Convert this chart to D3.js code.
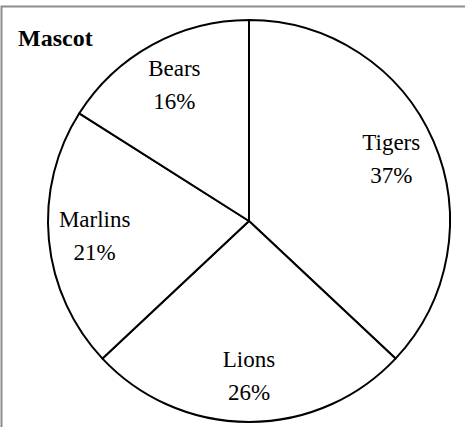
<!DOCTYPE html>
<html>
<head>
<meta charset="utf-8">
<script src="https://cdn.jsdelivr.net/npm/d3@7"></script>
<style>
  html, body { margin: 0; padding: 0; background: #fff; overflow: hidden; }
</style>
</head>
<body>
<div class="container"></div>
<script>
// chart data
const categories = ["Tigers", "Lions", "Marlins", "Bears"]
const values = [37, 26, 21, 16]
const title = "Mascot"

const w = 465
const h = 427
const cx = 249
const cy = 221
const radius = 201
const labelRadius = 155

const svg = d3.select(".container")
  .append("svg")
  .attr("width", w)
  .attr("height", h)

// chart frame (runs off the right and bottom edges)
svg.append("rect")
  .attr("x", 1.5)
  .attr("y", 6.5)
  .attr("width", w + 10)
  .attr("height", h + 10)
  .attr("fill", "#fff")
  .attr("stroke", "#8c8c8c")
  .attr("stroke-width", 2)

svg.append("text")
  .attr("x", 18)
  .attr("y", 46)
  .attr("font-family", "'Liberation Serif', 'Times New Roman', serif")
  .attr("font-weight", "bold")
  .attr("font-size", "24px")
  .text(title)

const data = categories.map((c, i) => ({ name: c, value: values[i] }))
const total = d3.sum(values)

const pie = d3.pie().sort(null).value(d => d.value)
const arc = d3.arc().innerRadius(0).outerRadius(radius)
const labelArc = d3.arc().innerRadius(labelRadius).outerRadius(labelRadius)

const g = svg.append("g")
  .attr("transform", `translate(${cx},${cy})`)

const slices = g.selectAll(".slice")
  .data(pie(data))
  .enter()
  .append("g")
  .attr("class", "slice")

slices.append("path")
  .attr("d", arc)
  .attr("fill", "#fff")
  .attr("stroke", "#000")
  .attr("stroke-width", 2)
  .attr("stroke-linejoin", "round")

const label = slices.append("text")
  .attr("transform", d => `translate(${labelArc.centroid(d)})`)
  .attr("text-anchor", "middle")
  .attr("font-family", "'Liberation Serif', 'Times New Roman', serif")
  .attr("font-size", "23px")
  .attr("fill", "#000")

label.append("tspan")
  .attr("x", 0)
  .attr("y", -9)
  .text(d => d.data.name)

label.append("tspan")
  .attr("x", 0)
  .attr("y", 24)
  .text(d => Math.round(d.data.value / total * 100) + "%")
</script>
</body>
</html>
